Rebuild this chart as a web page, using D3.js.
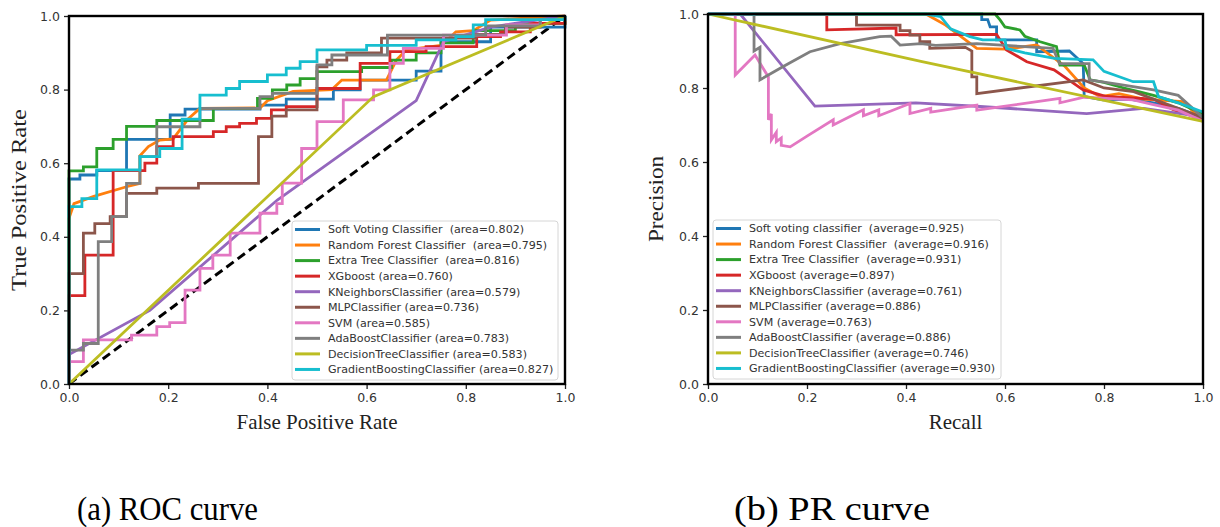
<!DOCTYPE html>
<html>
<head>
<meta charset="utf-8">
<script src="https://cdn.jsdelivr.net/npm/d3@7"></script>
<style>
  body { margin: 0; background: #fff; }
  svg text { white-space: pre; }
</style>
</head>
<body>
<div class="viz"></div>
<script>
// colours (matplotlib tab10) and legend entries
let colors = ['#1f77b4', '#ff7f0e', '#2ca02c', '#d62728', '#9467bd', '#8c564b', '#e377c2', '#7f7f7f', '#bcbd22', '#17becf'];

let rocNames = ['Soft Voting Classifier  (area=0.802)', 'Random Forest Classifier  (area=0.795)', 'Extra Tree Classifier  (area=0.816)',
	'XGboost (area=0.760)', 'KNeighborsClassifier (area=0.579)', 'MLPClassifier (area=0.736)', 'SVM (area=0.585)',
	'AdaBoostClassifier (area=0.783)', 'DecisionTreeClassifier (area=0.583)', 'GradientBoostingClassifier (area=0.827)'];

let prNames = ['Soft voting classifier  (average=0.925)', 'Random Forest Classifier  (average=0.916)', 'Extra Tree Classifier  (average=0.931)',
	'XGboost (average=0.897)', 'KNeighborsClassifier (average=0.761)', 'MLPClassifier (average=0.886)', 'SVM (average=0.763)',
	'AdaBoostClassifier (average=0.886)', 'DecisionTreeClassifier (average=0.746)', 'GradientBoostingClassifier (average=0.930)'];

let ticks = [0, 0.2, 0.4, 0.6, 0.8, 1.0];

// ROC curves [fpr, tpr]; step curves: point = where tpr jumps, new tpr
let rocSoftVoting = [[0,0],[0,0.557],[0.022,0.568],[0.056,0.58],[0.116,0.665],[0.204,0.731],[0.234,0.747],[0.385,0.758],[0.438,0.774],[0.533,0.799],[0.587,0.826],[0.70,0.85],[0.75,0.93],[0.85,0.97],[1,1]];
let rocRandomForest = [[0,0],[0,0.45],[0.01,0.49],[0.05,0.51],[0.116,0.536],[0.143,0.545],[0.143,0.62],[0.16,0.645],[0.183,0.663],[0.21,0.666],[0.24,0.72],[0.264,0.749],[0.385,0.75],[0.40,0.77],[0.452,0.795],[0.53,0.80],[0.55,0.826],[0.64,0.826],[0.66,0.88],[0.68,0.908],[0.75,0.92],[0.78,0.957],[0.815,0.96],[0.85,0.989],[1,1]];
let rocExtraTree = [[0,0],[0,0.579],[0.029,0.59],[0.056,0.64],[0.089,0.665],[0.116,0.70],[0.177,0.716],[0.291,0.749],[0.38,0.776],[0.41,0.799],[0.439,0.8125],[0.466,0.83],[0.5,0.849],[0.59,0.86],[0.65,0.88],[0.70,0.90],[0.75,0.927],[0.815,0.96],[0.9,0.98],[1,1]];
let rocXGboost = [[0,0],[0,0.24],[0.032,0.35],[0.089,0.58],[0.153,0.60],[0.177,0.645],[0.21,0.672],[0.291,0.686],[0.317,0.699],[0.344,0.708],[0.378,0.722],[0.408,0.745],[0.438,0.754],[0.5,0.803],[0.587,0.871],[0.647,0.903],[0.72,0.917],[0.822,0.944],[0.87,0.957],[0.93,0.98],[1,1]];
let rocKNeighbors = [[0,0],[0,0.08],[0.163,0.20],[0.42,0.50],[0.70,0.77],[0.755,0.93],[0.85,0.97],[1,1]];
let rocMLP = [[0,0],[0,0.30],[0.029,0.41],[0.052,0.436],[0.083,0.455],[0.116,0.518],[0.177,0.532],[0.261,0.545],[0.382,0.672],[0.409,0.728],[0.438,0.745],[0.5,0.862],[0.52,0.88],[0.56,0.90],[0.63,0.94],[0.82,0.95],[0.88,0.97],[0.95,0.99],[1,1]];
let rocSVM = [[0,0],[0,0.061],[0.029,0.12],[0.126,0.133],[0.177,0.156],[0.203,0.167],[0.234,0.255],[0.264,0.314],[0.29,0.35],[0.325,0.41],[0.385,0.464],[0.419,0.49],[0.43,0.546],[0.469,0.64],[0.5,0.713],[0.553,0.772],[0.614,0.799],[0.647,0.871],[0.674,0.912],[0.755,0.948],[0.882,0.976],[0.95,0.99],[1,1]];
let rocAdaBoost = [[0,0],[0,0.092],[0.029,0.11],[0.059,0.387],[0.086,0.455],[0.116,0.545],[0.143,0.618],[0.177,0.699],[0.264,0.749],[0.385,0.781],[0.41,0.79],[0.5,0.867],[0.53,0.894],[0.642,0.948],[0.84,0.973],[0.95,0.99],[1,1]];
let rocDecisionTree = [[0,0],[0.614,0.781],[1,1]];
let rocGradientBoosting = [[0,0],[0,0.482],[0.026,0.504],[0.056,0.582],[0.143,0.618],[0.183,0.64],[0.228,0.72],[0.264,0.785],[0.317,0.803],[0.344,0.822],[0.40,0.84],[0.438,0.858],[0.466,0.876],[0.5,0.908],[0.60,0.92],[0.70,0.935],[0.78,0.944],[0.815,0.976],[0.84,0.99],[1,1]];

// which ROC series are staircases (others drawn as straight segments)
let rocStep = [true, false, true, true, false, true, true, true, false, true];

// PR curves [recall, precision]
let prSoftVoting = [[0,1],[0.553,1],[0.553,0.985],[0.565,0.985],[0.57,0.965],[0.583,0.965],[0.583,0.93],[0.664,0.93],[0.664,0.898],[0.73,0.90],[0.758,0.866],[0.76,0.777],[0.798,0.768],[0.85,0.77],[0.9,0.76],[0.95,0.745],[1,0.72]];
let prRandomForest = [[0,1],[0.44,1],[0.48,0.97],[0.51,0.94],[0.543,0.907],[0.60,0.905],[0.664,0.916],[0.68,0.90],[0.72,0.86],[0.76,0.80],[0.792,0.777],[0.83,0.785],[0.88,0.77],[0.96,0.763],[1,0.71]];
let prExtraTree = [[0,1],[0.58,1],[0.59,0.984],[0.60,0.965],[0.63,0.957],[0.64,0.94],[0.671,0.925],[0.704,0.912],[0.711,0.862],[0.76,0.862],[0.772,0.822],[0.80,0.815],[0.84,0.80],[0.87,0.79],[0.9,0.78],[0.95,0.76],[1,0.73]];
let prXGboost = [[0,1],[0.24,1],[0.24,0.957],[0.38,0.962],[0.38,0.944],[0.583,0.945],[0.603,0.903],[0.644,0.871],[0.699,0.849],[0.738,0.813],[0.758,0.795],[0.805,0.777],[0.9,0.77],[0.94,0.741],[1,0.715]];
let prKNeighbors = [[0,1],[0.065,1],[0.216,0.751],[0.42,0.76],[0.55,0.75],[0.765,0.731],[0.88,0.745],[1,0.722]];
let prMLP = [[0,1],[0.30,1],[0.30,0.97],[0.388,0.97],[0.388,0.955],[0.408,0.955],[0.408,0.943],[0.428,0.943],[0.428,0.925],[0.448,0.925],[0.448,0.907],[0.52,0.91],[0.533,0.90],[0.533,0.83],[0.543,0.83],[0.543,0.785],[0.758,0.822],[0.80,0.80],[0.86,0.79],[0.92,0.76],[1,0.72]];
let prSVM = [[0,1],[0.055,1],[0.055,0.835],[0.095,0.889],[0.122,0.83],[0.122,0.714],[0.128,0.73],[0.128,0.66],[0.138,0.68],[0.138,0.655],[0.148,0.665],[0.148,0.645],[0.166,0.641],[0.20,0.67],[0.253,0.714],[0.253,0.70],[0.314,0.741],[0.314,0.725],[0.345,0.741],[0.345,0.725],[0.408,0.758],[0.408,0.731],[0.45,0.745],[0.45,0.735],[0.543,0.754],[0.543,0.74],[0.711,0.772],[0.711,0.76],[0.76,0.775],[0.859,0.768],[0.9,0.755],[0.95,0.74],[1,0.71]];
let prAdaBoost = [[0,1],[0.093,1],[0.093,0.90],[0.105,0.91],[0.105,0.822],[0.152,0.858],[0.206,0.898],[0.267,0.92],[0.347,0.939],[0.37,0.94],[0.388,0.916],[0.43,0.92],[0.46,0.915],[0.543,0.92],[0.697,0.907],[0.71,0.866],[0.77,0.866],[0.77,0.822],[0.83,0.81],[0.9,0.795],[0.95,0.78],[1,0.72]];
let prDecisionTree = [[0,1],[0.43,0.872],[1,0.71]];
let prGradientBoosting = [[0,1],[0.44,1],[0.47,0.993],[0.49,0.96],[0.529,0.939],[0.555,0.93],[0.60,0.93],[0.603,0.907],[0.64,0.895],[0.70,0.88],[0.778,0.876],[0.80,0.845],[0.859,0.817],[0.9,0.817],[0.91,0.777],[0.95,0.76],[1,0.735]];

let rocCurves = [rocSoftVoting, rocRandomForest, rocExtraTree, rocXGboost, rocKNeighbors, rocMLP, rocSVM, rocAdaBoost, rocDecisionTree, rocGradientBoosting];
let prCurves = [prSoftVoting, prRandomForest, prExtraTree, prXGboost, prKNeighbors, prMLP, prSVM, prAdaBoost, prDecisionTree, prGradientBoosting];

let width = 1220, height = 527;

let svg = d3.select('.viz').append('svg')
	.attr('width', width)
	.attr('height', height)
	.style('font-family', 'DejaVu Sans, sans-serif');

function panel(opts) {
	let x = d3.scaleLinear().domain([0, 1]).range([opts.left, opts.right]);
	let y = d3.scaleLinear().domain([0, 1]).range([opts.bottom, opts.top]);

	let g = svg.append('g');

	let clipId = 'clip' + opts.id;
	g.append('clipPath').attr('id', clipId)
		.append('rect')
		.attr('x', opts.left - 2).attr('y', opts.top - 2)
		.attr('width', opts.right - opts.left + 4).attr('height', opts.bottom - opts.top + 4);

	let plot = g.append('g').attr('clip-path', 'url(#' + clipId + ')');

	if (opts.diagonal) {
		plot.append('path')
			.datum([[0, 0], [1, 1]])
			.attr('d', d3.line().x(d => x(d[0])).y(d => y(d[1])))
			.attr('fill', 'none')
			.attr('stroke', '#000')
			.attr('stroke-width', 3)
			.attr('stroke-dasharray', '9,5');
	}

	plot.selectAll('path.curve')
		.data(opts.curves)
		.enter().append('path')
		.attr('class', 'curve')
		.attr('d', (d, i) => d3.line()
			.x(p => x(p[0]))
			.y(p => y(p[1]))
			.curve(opts.step && opts.step[i] ? d3.curveStepAfter : d3.curveLinear)(d))
		.attr('fill', 'none')
		.attr('stroke', (d, i) => colors[i])
		.attr('stroke-width', 2.8)
		.attr('stroke-linejoin', 'miter');

	// axes
	let xAxis = g.append('g')
		.attr('transform', 'translate(0,' + opts.bottom + ')')
		.call(d3.axisBottom(x).tickValues(ticks).tickFormat(d3.format('.1f')).tickSize(5).tickPadding(4));
	let yAxis = g.append('g')
		.attr('transform', 'translate(' + opts.left + ',0)')
		.call(d3.axisLeft(y).tickValues(ticks).tickFormat(d3.format('.1f')).tickSize(5).tickPadding(4));
	[xAxis, yAxis].forEach(a => {
		a.select('.domain').remove();
		a.selectAll('.tick line').attr('stroke', '#222').attr('stroke-width', 1.3);
		a.selectAll('.tick text')
			.attr('fill', '#333')
			.style('font-family', 'DejaVu Sans, sans-serif')
			.style('font-size', '12.5px');
	});

	// frame
	g.append('rect')
		.attr('x', opts.left).attr('y', opts.top)
		.attr('width', opts.right - opts.left).attr('height', opts.bottom - opts.top)
		.attr('fill', 'none')
		.attr('stroke', '#000')
		.attr('stroke-width', 2.4);

	// axis titles
	g.append('text')
		.attr('x', (opts.left + opts.right) / 2)
		.attr('y', opts.bottom + 45)
		.attr('text-anchor', 'middle')
		.style('font-family', 'Liberation Serif, serif')
		.style('font-size', '21px')
		.attr('fill', '#222')
		.text(opts.xLabel);
	g.append('text')
		.attr('transform', 'translate(' + opts.yLabelX + ',' + (opts.top + opts.bottom) / 2 + ') rotate(-90)')
		.attr('text-anchor', 'middle')
		.attr('textLength', opts.yLabelLen)
		.attr('lengthAdjust', 'spacingAndGlyphs')
		.style('font-family', 'Liberation Serif, serif')
		.style('font-size', '21px')
		.attr('fill', '#222')
		.text(opts.yLabel);

	// legend
	let lg = opts.legend;
	let leg = g.append('g');
	leg.append('rect')
		.attr('x', lg.x).attr('y', lg.y)
		.attr('width', lg.w).attr('height', lg.h)
		.attr('rx', 3)
		.attr('fill', '#fff')
		.attr('fill-opacity', 0.85)
		.attr('stroke', '#d6d6d6');
	let rows = leg.selectAll('g.row')
		.data(opts.names)
		.enter().append('g')
		.attr('class', 'row')
		.attr('transform', (d, i) => 'translate(0,' + (lg.y + 8.5 + i * 15.55) + ')');
	rows.append('line')
		.attr('x1', lg.x + 3).attr('x2', lg.x + 28)
		.attr('stroke', (d, i) => colors[i])
		.attr('stroke-width', 3);
	rows.append('text')
		.attr('x', lg.x + 36)
		.attr('dy', '0.35em')
		.attr('fill', '#333')
		.style('font-size', '11.1px')
		.text(d => d);
}

panel({
	id: 'roc', left: 69, right: 565, top: 16, bottom: 384,
	curves: rocCurves, step: rocStep, names: rocNames, diagonal: true,
	xLabel: 'False Positive Rate', yLabel: 'True Positive Rate', yLabelX: 26, yLabelLen: 182,
	legend: {x: 292, y: 221, w: 266, h: 159}
});

panel({
	id: 'pr', left: 708, right: 1203, top: 14, bottom: 384,
	curves: prCurves, names: prNames, diagonal: false,
	xLabel: 'Recall', yLabel: 'Precision', yLabelX: 663, yLabelLen: 86,
	legend: {x: 713, y: 220, w: 288, h: 159}
});

// captions (slightly condensed, as in the source figure)
let captions = [['(a) ROC curve', 77, 181], ['(b) PR curve', 734, 196]];
svg.selectAll('text.caption')
	.data(captions)
	.enter().append('text')
	.attr('class', 'caption')
	.attr('x', d => d[1]).attr('y', 520)
	.attr('textLength', d => d[2])
	.attr('lengthAdjust', 'spacingAndGlyphs')
	.style('font-family', 'Liberation Serif, serif')
	.style('font-size', '34px')
	.attr('fill', '#000')
	.text(d => d[0]);
</script>
</body>
</html>
